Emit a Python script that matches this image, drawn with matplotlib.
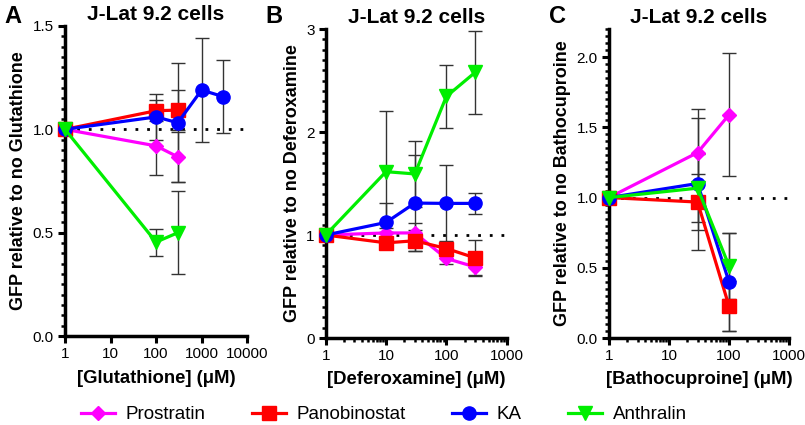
import numpy as np
import matplotlib
matplotlib.use("Agg")
import matplotlib.pyplot as plt
from matplotlib.ticker import LogLocator, MultipleLocator, NullFormatter

plt.rcParams['font.family'] = ['Liberation Sans', 'DejaVu Sans']

drugs = ["Prostratin", "Panobinostat", "KA", "Anthralin"]
colors = {"Prostratin": "#ff00ff", "Panobinostat": "#ff0000", "KA": "#0000ff", "Anthralin": "#00ee00"}
markers = {"Prostratin": "D", "Panobinostat": "s", "KA": "o", "Anthralin": "v"}

# Panel A - Glutathione
conc_A = [1, 100, 300, 1000, 3000]
mean_A = {
    "Prostratin":   [1.0, 0.92, 0.867, np.nan, np.nan],
    "Panobinostat": [1.0, 1.09, 1.093, np.nan, np.nan],
    "KA":           [1.0, 1.06, 1.032, 1.19, 1.158],
    "Anthralin":    [1.0, 0.455, 0.50, np.nan, np.nan],
}
err_A = {
    "Prostratin":   [0, 0.14, 0.12, np.nan, np.nan],
    "Panobinostat": [0, 0.05, 0.095, np.nan, np.nan],
    "KA":           [0, 0.11, 0.287, 0.25, 0.176],
    "Anthralin":    [0, 0.065, 0.20, np.nan, np.nan],
}

# Panel B - Deferoxamine
conc_B = [1, 10, 30, 100, 300]
mean_B = {
    "Prostratin":   [1.0, 1.02, 1.02, 0.772, 0.69],
    "Panobinostat": [1.0, 0.924, 0.944, 0.869, 0.778],
    "KA":           [1.0, 1.122, 1.31, 1.307, 1.307],
    "Anthralin":    [1.0, 1.615, 1.593, 2.345, 2.579],
}
err_B = {
    "Prostratin":   [0, 0.05, 0.10, 0.05, 0.09],
    "Panobinostat": [0, 0.03, 0.10, 0.06, 0.17],
    "KA":           [0, 0.19, 0.47, 0.37, 0.10],
    "Anthralin":    [0, 0.59, 0.32, 0.31, 0.40],
}

# Panel C - Bathocuproine
conc_C = [1, 30, 100]
mean_C = {
    "Prostratin":   [1.0, 1.32, 1.589],
    "Panobinostat": [1.0, 0.968, 0.229],
    "KA":           [1.0, 1.10, 0.401],
    "Anthralin":    [1.0, 1.067, 0.515],
}
err_C = {
    "Prostratin":   [0, 0.31, 0.437],
    "Panobinostat": [0, 0.20, 0.18],
    "KA":           [0, 0.47, 0.35],
    "Anthralin":    [0, 0.24, 0.235],
}

panels = [
    ("A", conc_A, mean_A, err_A, "[Glutathione] (μM)", "GFP relative to no Glutathione",
     (1, 10000), [1, 10, 100, 1000, 10000], (0, 1.5), [0.0, 0.5, 1.0, 1.5], "{:.1f}", 0.05,
     [0.0807, 0.209, 0.2263, 0.730]),
    ("B", conc_B, mean_B, err_B, "[Deferoxamine] (μM)", "GFP relative to no Deferoxamine",
     (1, 1000), [1, 10, 100, 1000], (0, 3), [0, 1, 2, 3], "{:.0f}", 0.1,
     [0.4046, 0.2047, 0.2248, 0.727]),
    ("C", conc_C, mean_C, err_C, "[Bathocuproine] (μM)", "GFP relative to no Bathocuproine",
     (1, 1000), [1, 10, 100, 1000], (0, 2.2), [0.0, 0.5, 1.0, 1.5, 2.0], "{:.1f}", 0.05,
     [0.7565, 0.2047, 0.2235, 0.727]),
]

fig = plt.figure(figsize=(8.05, 4.25), dpi=100)

for letter, conc, means, errs, xlab, ylab, xlim, xticks, ylim, yticks, yfmt, yminor, rect in panels:
    ax = fig.add_axes(rect)
    ax.set_xscale("log")
    ax.axhline(1.0, color="black", linestyle=(0, (1, 3.2)), linewidth=2.0, zorder=1)
    for d in drugs:
        ax.errorbar(conc, means[d], yerr=errs[d], fmt="none", ecolor="#333333",
                    elinewidth=1.0, capsize=5, capthick=1.0, zorder=2)
    for d in drugs:
        ax.plot(conc, means[d], color=colors[d], marker=markers[d],
                markersize=9.5 if d != "Prostratin" else 7,
                linewidth=2.3, label=d, zorder=3, clip_on=False)

    ax.set_xlim(*xlim)
    ax.set_ylim(*ylim)
    ax.set_xticks(xticks)
    ax.set_xticklabels([str(t) for t in xticks])
    ax.xaxis.set_minor_locator(LogLocator(base=10, subs=np.arange(2, 10)))
    ax.xaxis.set_minor_formatter(NullFormatter())
    ax.set_yticks(yticks)
    ax.set_yticklabels([yfmt.format(t) for t in yticks])
    ax.yaxis.set_minor_locator(MultipleLocator(yminor))

    for s in ["top", "right"]:
        ax.spines[s].set_visible(False)
    for s in ["left", "bottom"]:
        ax.spines[s].set_linewidth(2.5)
    ax.tick_params(which="major", direction="out", length=5, width=2.2, labelsize=11, pad=3)
    ax.tick_params(which="minor", direction="out", length=3, width=1.8)

    ax.set_xlabel(xlab, fontsize=13.3, fontweight="bold", labelpad=6)
    ax.set_ylabel(ylab, fontsize=13, fontweight="bold", labelpad=4)
    ax.set_title("J-Lat 9.2 cells", fontsize=15, fontweight="bold", pad=4)
    fig.text(rect[0] - 0.075, 0.962, letter, fontsize=17, fontweight="bold", va="center")

handles, labels = ax.get_legend_handles_labels()
fig.legend(handles, labels, loc="center", bbox_to_anchor=(0.477, 0.024), ncol=4,
           frameon=False, fontsize=13.5, handlelength=1.8, columnspacing=2.5,
           handletextpad=0.55, borderpad=0.0, borderaxespad=0.0)

fig.savefig("out.png", dpi=100)
